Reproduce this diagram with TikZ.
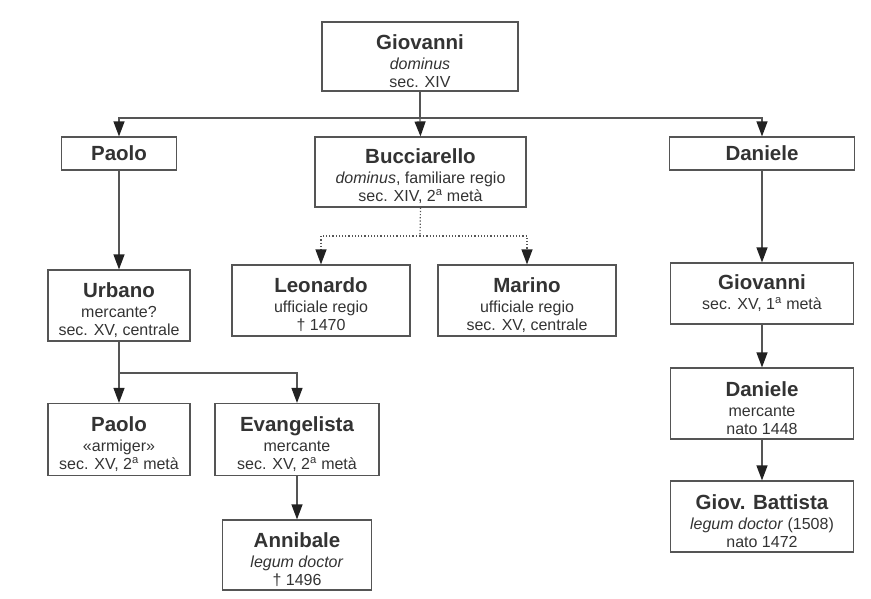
\documentclass[tikz,border=0pt]{standalone}
\usepackage{fontspec}
\setmainfont{Liberation Sans}
\usetikzlibrary{arrows.meta, positioning}

\definecolor{boxline}{HTML}{555555}
\definecolor{boxtext}{HTML}{333333}
\definecolor{tipfill}{HTML}{222222}
\newcommand{\sname}[1]{{\fontsize{20.5}{23}\selectfont\bfseries #1}}
\newcommand{\pname}[1]{{\fontsize{20.5}{23}\selectfont\bfseries\rule{0pt}{24pt}#1}}

\begin{document}
\begin{tikzpicture}[x=1pt,y=-1pt,
   person/.style={draw=boxline,line width=1.2pt,rectangle,align=center,text=boxtext,
                  font=\fontsize{16}{18}\selectfont,inner sep=1pt},
   link/.style={draw=boxline,line width=1.2pt,-{Triangle[length=15pt,width=11pt,color=tipfill]}},
   plain/.style={draw=boxline,line width=1.2pt}]

   \useasboundingbox (0,0) rectangle (871,598);

   % Nodes
      \node[person,minimum width=196,minimum height=69] (giov)  at (420,56.5)  {\pname{Giovanni}\\[2pt] \textit{dominus}\\ sec. XIV};
      \node[person,minimum width=115,minimum height=33] (paolo) at (119,153.5) {\sname{Paolo}};
      \node[person,minimum width=211,minimum height=70] (bucc)  at (420.5,172) {\pname{Bucciarello}\\[2pt] \textit{dominus}, familiare regio\\ sec. XIV, 2\textsuperscript{a} metà};
      \node[person,minimum width=185,minimum height=33] (dan)   at (762,153.5) {\sname{Daniele}};
      \node[person,minimum width=178,minimum height=71] (leo)   at (321,300.5) {\pname{Leonardo}\\[2pt] ufficiale regio\\ † 1470};
      \node[person,minimum width=178,minimum height=71] (mar)   at (527,300.5) {\pname{Marino}\\[2pt] ufficiale regio\\ sec. XV, centrale};
      \node[person,minimum width=142,minimum height=71] (urb)   at (119,305.5) {\pname{Urbano}\\[2pt] mercante?\\ sec. XV, centrale};
      \node[person,minimum width=142,minimum height=72] (paolob) at (119,439.5) {\pname{Paolo}\\[2pt] «armiger»\\ sec. XV, 2\textsuperscript{a} metà};
      \node[person,minimum width=164,minimum height=72] (evan)  at (297,439.5) {\pname{Evangelista}\\[2pt] mercante\\ sec. XV, 2\textsuperscript{a} metà};
      \node[person,minimum width=149,minimum height=70] (anni)  at (297,555)   {\pname{Annibale}\\[2pt] \textit{legum doctor}\\ † 1496};
      \node[person,minimum width=183,minimum height=61] (giovb) at (762,293.5) {\sname{Giovanni}\\[2pt] sec. XV, 1\textsuperscript{a} metà};
      \node[person,minimum width=183,minimum height=71] (danb)  at (762,403.5) {\pname{Daniele}\\[2pt] mercante\\ nato 1448};
      \node[person,minimum width=183,minimum height=71] (gbatt) at (762,516.5) {\pname{Giov. Battista}\\[2pt] \textit{legum doctor} (1508)\\ nato 1472};

      \coordinate (gsplit) at (420,118);
      \coordinate (bsplit) at (420,236);
      \coordinate (usplit) at (119,373);

   % Paths
      \draw[plain] (giov.south) -- (gsplit);
      \draw[link] (gsplit) -| (paolo.north);
      \draw[link] (gsplit) -| (dan.north);
      \draw[link] (gsplit) -- (bucc.north);
      \draw[plain,dotted] (bucc.south) -- (bsplit);
      \draw[link,dotted] (bsplit) -| (leo.north);
      \draw[link,dotted] (bsplit) -| (mar.north);
      \draw[link] (paolo.south) -- (urb.north);
      \draw[plain] (urb.south) -- (usplit);
      \draw[link] (usplit) -- (paolob.north);
      \draw[link] (usplit) -| (evan.north);
      \draw[link] (evan.south) -- (anni.north);
      \draw[link] (dan.south) -- (giovb.north);
      \draw[link] (giovb.south) -- (danb.north);
      \draw[link] (danb.south) -- (gbatt.north);
\end{tikzpicture}
\end{document}
